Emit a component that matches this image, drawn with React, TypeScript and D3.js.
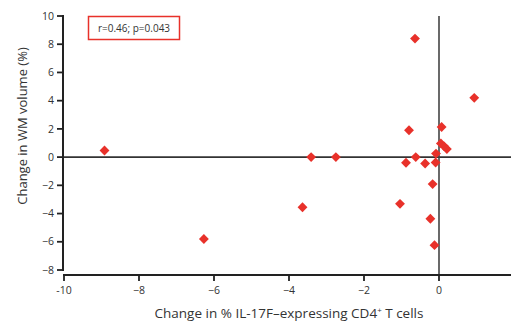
import React from 'react';
import * as d3 from 'd3';

// change in % IL-17F-expressing CD4+ T cells
const xValues = [-8.92, -6.27, -3.64, -3.41, -2.75, -1.04, -0.88, -0.8, -0.64, -0.62, -0.37, -0.23, -0.17, -0.12, -0.09, -0.08, 0.07, 0.05, 0.13, 0.21, 0.94];
// change in WM volume (%)
const yValues = [0.47, -5.8, -3.55, 0, 0, -3.31, -0.4, 1.9, 8.4, 0, -0.45, -4.37, -1.91, -6.24, -0.38, 0.25, 2.13, 0.97, 0.78, 0.57, 4.2];

const xTicks = [-10, -8, -6, -4, -2, 0];
const yTicks = [-8, -6, -4, -2, 0, 2, 4, 6, 8, 10];
const statsLabel = 'r=0.46; p=0.043';

const W = 511;
const H = 324;
const FONT = "'Open Sans', 'DejaVu Sans', sans-serif";
const RED = '#e8312a';

const fmt = (v: number) => (v < 0 ? (v === -10 ? '-10' : '\u2212' + Math.abs(v)) : String(v));

export default function App() {
  const x = d3.scaleLinear().domain([-10, 2]).range([64, 514]);
  const y = d3.scaleLinear().domain([-8, 10]).range([270, 16]);
  const axisY = 275;
  const axisX = 63;
  const diamond = d3.symbol().type(d3.symbolDiamond2).size(62)();

  return (
    <svg width={W} height={H} style={{ position: 'absolute', left: 0, top: 0, background: '#fff' }} fontFamily={FONT}>
      {/* zero reference lines */}
      <line x1={axisX} x2={W} y1={y(0)} y2={y(0)} stroke="#333" strokeWidth={1.6} />
      <line x1={x(0)} x2={x(0)} y1={y(10)} y2={axisY} stroke="#444" strokeWidth={1.6} />

      {/* y axis */}
      <line x1={axisX} x2={axisX} y1={y(10) - 1} y2={y(-8) + 1} stroke="#222" strokeWidth={2} />
      {yTicks.map(t => (
        <g key={'y' + t}>
          <line x1={axisX - 6} x2={axisX} y1={y(t)} y2={y(t)} stroke="#222" strokeWidth={1.8} />
          <text x={axisX - 9} y={y(t)} dy="0.35em" textAnchor="end" fontSize={10.5} fill="#333">{fmt(t)}</text>
        </g>
      ))}

      {/* x axis */}
      <line x1={x(-10) - 1} x2={W} y1={axisY} y2={axisY} stroke="#222" strokeWidth={2} />
      {xTicks.map(t => (
        <g key={'x' + t}>
          <line x1={x(t)} x2={x(t)} y1={axisY} y2={axisY + 6} stroke="#222" strokeWidth={1.8} />
          <text x={x(t)} y={axisY + 19} textAnchor="middle" fontSize={10.5} fill="#333">{fmt(t)}</text>
        </g>
      ))}

      {/* points */}
      {xValues.map((v, i) => (
        <path key={i} d={diamond || ''} transform={`translate(${x(v)},${y(yValues[i])})`} fill={RED} />
      ))}

      {/* stats box */}
      <rect x={88.5} y={16.5} width={91} height={23} fill="#fff" stroke={RED} strokeWidth={1.5} />
      <text x={134} y={28} dy="0.35em" textAnchor="middle" fontSize={10} fill="#333">{statsLabel}</text>

      {/* axis titles */}
      <text transform={`translate(27,126) rotate(-90)`} textAnchor="middle" fontSize={13} fill="#333">Change in WM volume (%)</text>
      <text x={289} y={318} textAnchor="middle" fontSize={13.5} fill="#333">
        Change in % IL-17F–expressing CD4<tspan dy={-5} fontSize={8}>+</tspan><tspan dy={5}> T cells</tspan>
      </text>
    </svg>
  );
}
